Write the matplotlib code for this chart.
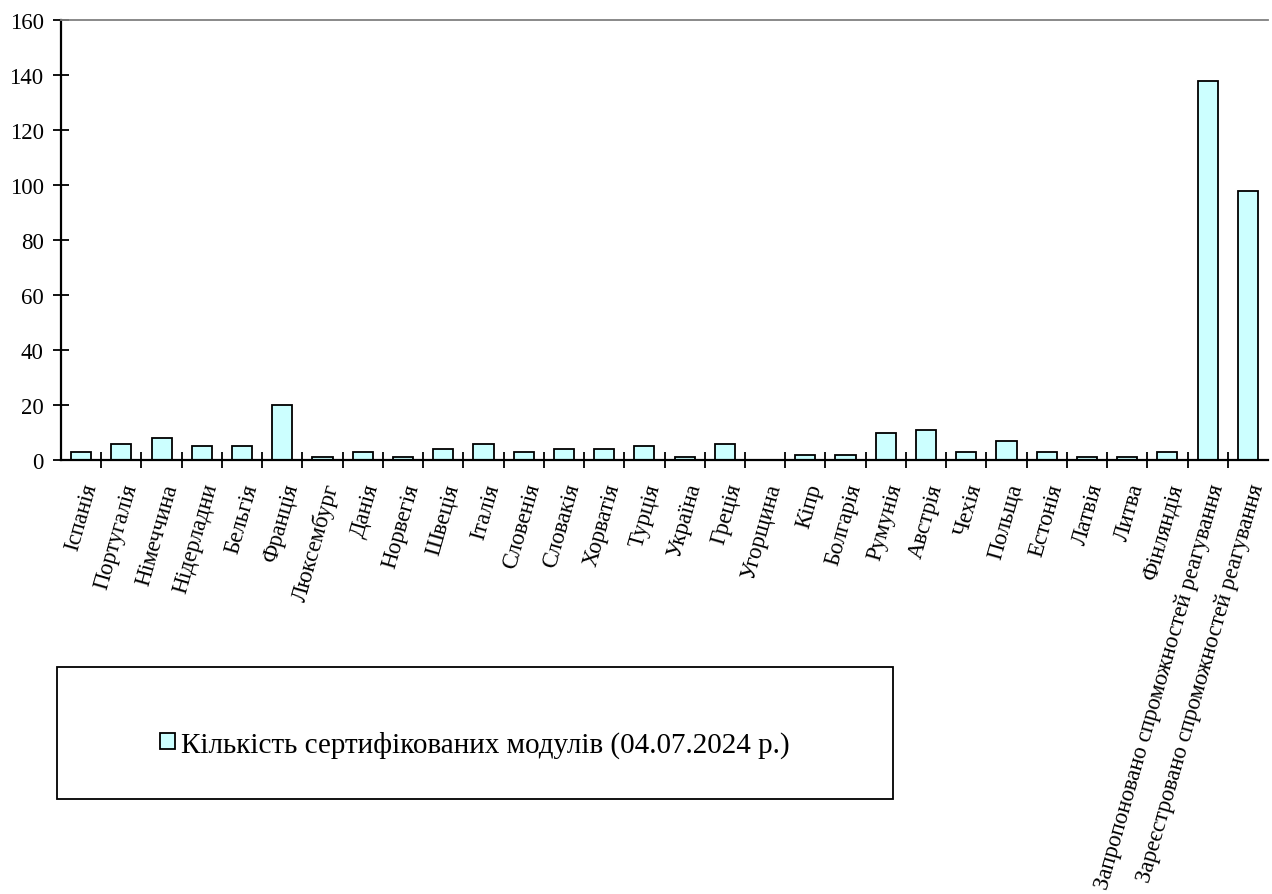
import matplotlib
matplotlib.use("Agg")
import matplotlib.pyplot as plt
from matplotlib.patches import Rectangle

plt.rcParams['font.family'] = ['Liberation Serif', 'DejaVu Serif']

categories = ["Іспанія", "Португалія", "Німеччина", "Нідерладни", "Бельгія", "Франція",
              "Люксембург", "Данія", "Норвегія", "Швеція", "Італія", "Словенія", "Словакія",
              "Хорватія", "Турція", "Україна", "Греція", "Угорщина", "Кіпр", "Болгарія",
              "Румунія", "Австрія", "Чехія", "Польща", "Естонія", "Латвія", "Литва",
              "Фінляндія", "Запропоновано спроможностей реагування",
              "Зареєстровано спроможностей реагування"]
values = [3, 6, 8, 5, 5, 20, 1, 3, 1, 4, 6, 3, 4, 4, 5, 1, 6, 0, 2, 2, 10, 11, 3, 7, 3, 1, 1, 3, 138, 98]
series_label = "Кількість сертифікованих модулів (04.07.2024 р.)"
yticks = [0, 20, 40, 60, 80, 100, 120, 140, 160]

fig = plt.figure(figsize=(12.72, 8.95), dpi=100)
ax = fig.add_axes([61/1272, 1-461/895, (1268-61)/1272, (461-21)/895])

x = list(range(len(categories)))
ax.bar(x, values, width=0.5, color='#CCFFFF', edgecolor='black', linewidth=1.3,
       label=series_label)

ax.set_xlim(-0.5, len(categories) - 0.5)
ax.set_ylim(0, 160)
ax.set_yticks(yticks)
ax.set_yticklabels([str(v) for v in yticks], fontsize=16.5)

# ticks between categories
ax.set_xticks([i + 0.5 for i in range(len(categories) - 1)], minor=False)
ax.set_xticklabels([])
ax.set_xticks(x, minor=True)
ax.set_xticklabels(categories, minor=True, rotation=74, ha='right', va='top',
                   rotation_mode='anchor', fontsize=16.5)
ax.tick_params(axis='x', which='minor', length=0, pad=15)
ax.tick_params(axis='x', which='major', direction='inout', length=11, width=1.3)
ax.tick_params(axis='y', direction='inout', length=11, width=1.3, pad=7)

ax.spines['right'].set_visible(False)
ax.spines['top'].set_color('#808080')
ax.spines['top'].set_linewidth(1.3)
ax.spines['left'].set_linewidth(1.6)
ax.spines['bottom'].set_linewidth(1.6)

# legend box
fig.patches.append(Rectangle((57/1272, 1-800/895), (893-57)/1272, (800-668)/895,
                             transform=fig.transFigure, facecolor='white',
                             edgecolor='black', linewidth=1.3))
handles, labels = ax.get_legend_handles_labels()
fig.legend(handles, labels, loc='center', bbox_to_anchor=((57+893)/2/1272, 1-745/895),
           frameon=False, fontsize=21, handlelength=0.5, handleheight=0.5,
           handletextpad=0.2)

fig.savefig("out.png", dpi=100)
